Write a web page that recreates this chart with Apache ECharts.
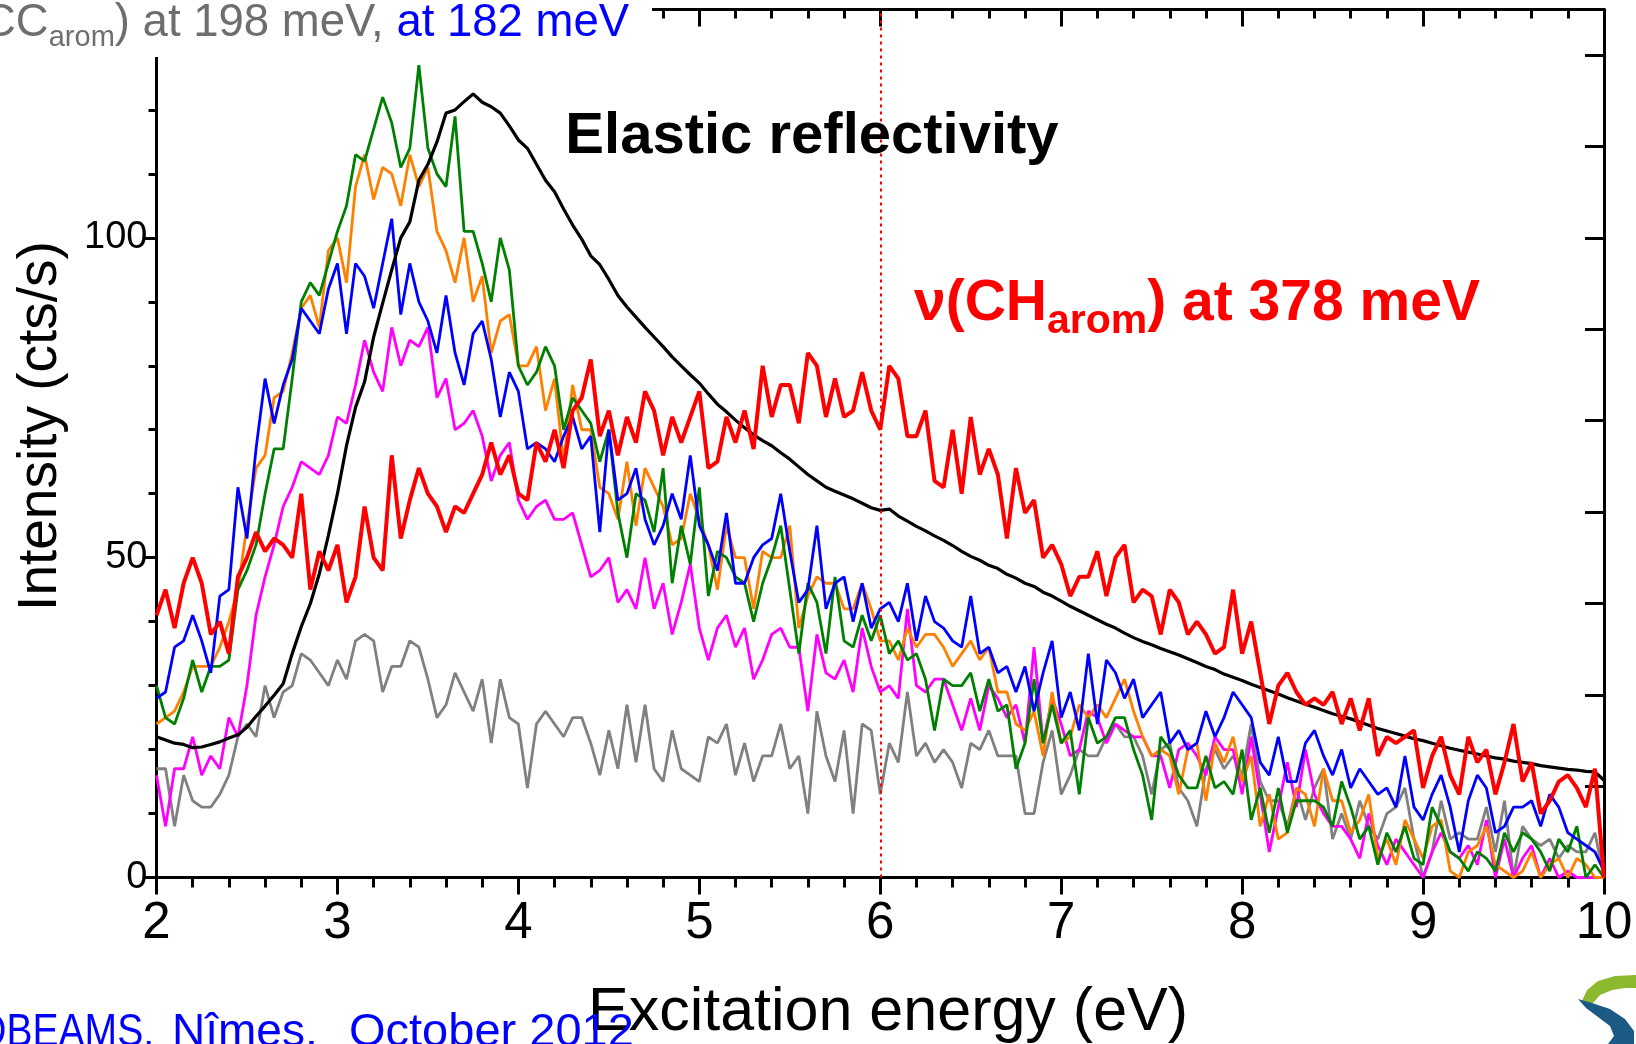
<!DOCTYPE html>
<html><head><meta charset="utf-8">
<script src="https://cdn.jsdelivr.net/npm/echarts@6/dist/echarts.min.js"></script>
<style>html,body{margin:0;padding:0;background:#fff;overflow:hidden}#c{width:1636px;height:1044px}</style>
</head><body><div id="c"></div>
<script>
// ---- data: intensity (cts/s) sampled every 0.05 eV from 2 to 10 eV ----
const E_START = 2, E_STEP = 0.05;
const redCH378 = [
41,45,39,46,50,46,38,40,35,47,50,54,51,53,52,50,60,45,51,48,
52,43,47,58,50,48,66,53,59,64,60,58,54,58,57,60,63,68,63,66,
60,59,68,65,70,64,73,75,81,69,73,66,72,68,76,73,66,72,68,72,
76,64,65,72,68,73,67,80,72,77,77,71,82,80,72,78,72,73,79,73,
70,80,78,69,69,73,62,61,70,60,72,63,67,63,53,64,57,59,50,52,
49,44,47,47,51,44,50,52,43,45,44,38,45,43,38,40,38,35,36,45,
35,40,32,24,30,32,29,27,28,27,29,24,28,23,28,19,22,21,22,23,
14,19,22,16,13,22,18,20,13,18,24,15,18,10,12,15,16,14,11,17,
0];
const elastic = [
22.0,21.5,21.0,20.8,20.3,20.4,20.8,21.2,21.8,22.3,23.5,25.2,26.8,28.5,30.3,35.0,39.2,42.8,47.5,53.5,
60.0,67.5,73.5,77.5,84.5,89.8,95.0,100.0,102.5,109.0,111.5,115.0,119.5,120.0,121.3,122.5,121.2,120.5,119.5,117.5,
115.3,114.0,111.5,109.0,107.2,104.5,102.0,99.8,97.2,95.8,93.5,91.0,89.2,87.6,86.0,84.5,83.0,81.4,80.0,78.6,
77.3,75.6,74.0,72.8,71.5,70.3,69.2,68.3,67.5,66.4,65.4,64.2,63.0,62.0,61.0,60.4,59.8,59.2,58.5,57.8,
57.4,57.6,56.5,55.7,54.9,54.2,53.4,52.7,51.9,51.0,50.2,49.6,48.8,48.3,47.4,46.8,46.0,45.5,44.6,44.0,
43.2,42.4,41.7,41.0,40.3,39.6,39.0,38.2,37.5,36.9,36.4,35.8,35.3,34.8,34.2,33.6,33.0,32.5,31.8,31.3,
30.8,30.2,29.7,29.2,28.7,28.1,27.6,27.1,26.6,26.1,25.6,25.2,24.8,24.3,23.8,23.3,22.9,22.5,22.1,21.7,
21.4,21.0,20.6,20.2,19.9,19.6,19.3,19.0,18.7,18.5,18.2,18.0,17.8,17.5,17.3,17.1,16.9,16.8,16.6,16.5,
15.2];
const blue182 = [
28,29,36,37,41,37,32,44,45,61,53,67,78,71,77,81,89,87,85,92,
96,85,96,94,89,96,103,88,96,90,87,82,91,82,77,85,87,81,72,79,
76,67,68,67,65,69,72,67,69,54,70,59,60,64,56,52,55,60,56,66,
55,52,48,57,46,46,50,52,53,60,51,43,45,55,42,46,47,40,46,39,
42,43,40,46,37,44,40,39,37,36,44,35,36,32,33,29,33,26,32,37,
25,29,23,35,24,34,32,28,31,25,27,29,21,23,20,21,26,22,25,29,
27,25,18,16,22,15,15,21,23,19,16,20,14,17,15,13,14,11,19,11,
9,13,16,11,4,12,16,14,7,8,11,11,12,8,13,11,7,6,5,4,
1];
const orange = [
24,25,26,29,33,33,33,36,40,45,55,64,66,75,76,82,89,91,86,98,
100,93,108,113,106,111,110,105,113,108,111,101,98,93,100,90,94,82,87,88,
80,80,83,73,78,65,77,70,70,61,60,56,65,55,64,61,58,52,53,60,
56,52,45,55,50,50,42,51,50,50,55,39,44,47,46,46,42,42,46,42,
37,37,34,39,36,38,38,36,33,35,37,34,36,29,29,24,23,26,19,29,
21,22,27,25,27,25,28,31,26,22,19,20,19,13,20,21,12,21,18,22,
15,19,8,13,6,7,14,13,8,17,12,12,7,9,13,3,6,2,9,6,
3,8,9,1,0,4,5,8,2,1,0,1,4,0,2,3,0,3,2,0,
0];
const green = [
30,25,24,28,34,29,33,33,34,45,48,52,60,67,67,78,90,93,91,96,
101,105,113,112,117,122,118,111,114,127,114,110,108,119,101,101,96,90,100,95,
80,77,79,83,80,70,75,73,71,65,70,57,50,60,59,54,64,46,55,49,
61,44,51,50,47,46,40,46,50,55,45,35,46,43,35,47,37,36,41,37,
41,35,37,34,35,31,23,31,30,30,32,26,31,26,27,17,21,31,21,27,
21,23,13,25,21,22,25,25,20,16,9,22,20,16,14,14,19,14,15,13,
20,9,14,7,14,7,12,12,12,11,8,15,11,6,8,2,7,4,8,3,
2,11,8,4,3,1,4,3,1,7,4,7,6,4,1,6,4,8,0,2,
0];
const magenta = [
16,8,17,17,22,16,19,17,25,22,30,41,47,52,58,61,65,64,63,66,
72,71,77,84,79,76,86,80,84,83,86,75,78,70,71,73,69,62,66,68,
59,56,58,59,56,56,57,52,47,48,50,43,45,42,50,42,46,38,43,49,
39,34,39,41,36,39,31,34,38,39,36,36,26,38,32,31,34,29,39,33,
29,30,28,42,30,29,31,31,27,23,28,23,30,28,25,27,21,36,21,28,
24,19,20,26,25,21,24,23,22,22,19,19,14,20,21,19,16,22,20,20,
13,22,13,4,11,18,11,20,13,10,8,8,6,3,10,5,2,6,4,2,
0,4,7,4,3,5,2,9,0,6,0,3,5,0,3,0,1,0,0,0,
0];
const grey198 = [
17,17,8,16,12,11,11,13,16,22,24,22,30,25,29,30,35,34,32,30,
34,31,37,38,37,29,33,33,37,36,31,25,27,32,29,26,31,21,31,25,
24,14,24,26,24,22,25,25,21,16,23,17,27,18,27,17,15,23,17,16,
15,22,21,24,16,21,15,19,19,24,17,19,10,26,19,15,23,10,24,23,
13,21,18,29,19,21,18,20,18,14,21,20,23,19,19,19,10,10,18,23,
13,16,20,19,19,22,24,22,22,19,13,20,21,14,12,8,17,20,17,19,
16,24,15,12,12,8,14,9,14,17,6,10,6,12,8,6,10,11,14,6,
0,4,12,6,7,6,6,11,4,12,0,8,6,5,6,3,5,4,4,7,
0];
const yLabelValues = [0, 50, 100];
const markerEnergy = 6;

// ---- chart ----
const FONT = '"Liberation Sans", Arial, Helvetica, sans-serif';
const mctx = document.createElement('canvas').getContext('2d');
function tw(t, fs, bold){ mctx.font = (bold?'bold ':'') + fs + 'px ' + FONT; return mctx.measureText(t).width; }
function mid(baseline, fs){ return baseline - 0.347*fs; }
function txt(t, x, baseline, fs, color, bold, align){
  return {type:'text', x:x, y:mid(baseline, fs), z:200,
    style:{text:t, fill:color, font:(bold?'bold ':'')+fs+'px '+FONT,
      align:align||'left', verticalAlign:'middle', textAlign:align||'left', textVerticalAlign:'middle'}};
}
function pairs(arr){ return arr.map((v,i)=>[+(E_START + i*E_STEP).toFixed(2), v]); }

const GRID = {left:156.5, right:32, top:9.5, bottom:166.5};
const YMAX = 135.7;   // left axis extent (right axis: 0..9.5)

const graphics = [];
// top-left caption with white background
graphics.push({type:'rect', z:190, shape:{x:0,y:0,width:652,height:57}, style:{fill:'#fff'}});
{
  let x = -17; const b = 39, fs = 45.5, sfs = 29, gc = '#6e6e6e';
  graphics.push(txt('CC', x, b, fs, gc)); x += tw('CC', fs);
  graphics.push(txt('arom', x, b+9, sfs, gc)); x += tw('arom', sfs);
  graphics.push(txt(') at 198 meV, ', x, b, fs, gc)); x += tw(') at 198 meV, ', fs);
  graphics.push(txt('at 182 meV', x, b, fs, '#0000ff'));
}
// red annotation
{
  let x = 914; const b = 324, fs = 57, sfs = 41, c = '#ff0000';
  graphics.push(txt('\u03bd(CH', x, b, fs, c, true)); x += tw('\u03bd(CH', fs, true);
  graphics.push(txt('arom', x, b+12, sfs, c, true)); x += tw('arom', sfs, true);
  graphics.push(txt(') at 378 meV', x, b, fs, c, true));
}
// Elastic reflectivity
{
  const fs = 58, t = 'Elastic reflectivity';
  graphics.push(txt(t, 812 - tw(t, fs, true)/2, 157, fs, '#000', true));
}
// axis titles
{
  const fs = 61, t = 'Excitation energy (eV)';
  graphics.push(txt(t, 888 - tw(t, fs)/2, 1034, fs, '#000'));
  graphics.push({type:'text', x:41, y:426, rotation:Math.PI/2, z:200,
    style:{text:'Intensity (cts/s)', fill:'#000', font:'55px '+FONT,
      align:'center', verticalAlign:'middle', textAlign:'center', textVerticalAlign:'middle'}});
}
// footer
{
  const f = txt('DBEAMS,', -19, 1049, 46, '#0000ff');
  f.scaleX = 0.85; f.originX = -19; f.originY = f.y;
  graphics.push(f);
  graphics.push(txt('N\u00eemes,', 172, 1049, 46, '#0000ff'));
  graphics.push(txt('October 2012', 349, 1049, 47, '#0000ff'));
}
// logo (decoration)
graphics.push({type:'polygon', z:200, shape:{points:[[1636,975],[1615,976],[1598,981],[1587,990],[1581,1003],[1593,1003],[1600,995],[1612,990],[1625,988],[1636,988]]}, style:{fill:'#8db92e'}});
graphics.push({type:'polygon', z:200, shape:{points:[[1578,999],[1592,1003],[1610,1009],[1625,1019],[1634,1031],[1634,1044],[1608,1044],[1614,1036],[1610,1026],[1598,1017],[1586,1008]]}, style:{fill:'#1b5a84'}});

function lineSeries(name, data, color, width, extra){
  return Object.assign({name, type:'line', data:pairs(data), showSymbol:false, symbol:'none',
    xAxisIndex:0, yAxisIndex:0, lineStyle:{color, width}, itemStyle:{color}, silent:true, animation:false, clip:true}, extra||{});
}

const axisLineStyle = {color:'#000', width:3};
const option = {
  animation:false,
  backgroundColor:'#fff',
  grid:GRID,
  xAxis:[
    {type:'value', min:2, max:10, interval:1, position:'bottom',
     axisLine:{show:true, onZero:false, lineStyle:axisLineStyle},
     axisTick:{show:true, inside:false, length:17, lineStyle:{color:'#000', width:3}},
     minorTick:{show:true, splitNumber:5, length:10, lineStyle:{color:'#000', width:3}},
     axisLabel:{show:true, color:'#000', fontSize:51, fontFamily:FONT, margin:21},
     splitLine:{show:false}, minorSplitLine:{show:false}},
    {type:'value', min:2, max:10, interval:1, position:'top',
     axisLine:{show:true, onZero:false, lineStyle:axisLineStyle},
     axisTick:{show:true, inside:true, length:17, lineStyle:{color:'#000', width:3}},
     minorTick:{show:true, splitNumber:5, length:9, lineStyle:{color:'#000', width:3}},
     axisLabel:{show:false}, splitLine:{show:false}, minorSplitLine:{show:false}}
  ],
  yAxis:[
    {type:'value', min:0, max:YMAX, interval:10, position:'left',
     axisLine:{show:true, onZero:false, lineStyle:axisLineStyle},
     axisTick:{show:true, inside:false, length:8, lineStyle:{color:'#000', width:3}},
     axisLabel:{show:false}, splitLine:{show:false}},
    {type:'value', min:0, max:YMAX, interval:50, position:'left',
     axisLine:{show:false},
     axisTick:{show:true, inside:false, length:12, lineStyle:{color:'#000', width:3}},
     axisLabel:{show:true, color:'#000', fontSize:38, fontFamily:FONT, margin:9,
       formatter:v => yLabelValues.indexOf(v) >= 0 ? String(v) : ''},
     splitLine:{show:false}},
    {type:'value', min:0, max:9.5, interval:1, position:'right',
     axisLine:{show:true, onZero:false, lineStyle:axisLineStyle},
     axisTick:{show:true, inside:true, length:19, lineStyle:{color:'#000', width:3}},
     axisLabel:{show:false}, splitLine:{show:false}},
    {type:'value', min:-0.5, max:9, interval:1, position:'right',
     axisLine:{show:false},
     axisTick:{show:true, inside:true, length:10, lineStyle:{color:'#000', width:3}},
     axisLabel:{show:false}, splitLine:{show:false}}
  ],
  series:[
    lineSeries('grey', grey198, '#808080', 2.8),
    lineSeries('magenta', magenta, '#ff00ff', 2.8),
    lineSeries('orange', orange, '#ff8000', 2.8),
    lineSeries('green', green, '#008000', 2.8),
    lineSeries('blue', blue182, '#0000ff', 2.8),
    lineSeries('elastic', elastic, '#000000', 3.2),
    lineSeries('red', redCH378, '#ff0000', 4, {
      markLine:{silent:true, symbol:['none','none'], label:{show:false},
        lineStyle:{color:'#ff0000', width:2, type:[3,4]},
        data:[{xAxis:markerEnergy}], animation:false}})
  ],
  graphic:graphics
};
const chart = echarts.init(document.getElementById('c'), null, {renderer:'canvas'});
chart.setOption(option);
</script>
</body></html>
